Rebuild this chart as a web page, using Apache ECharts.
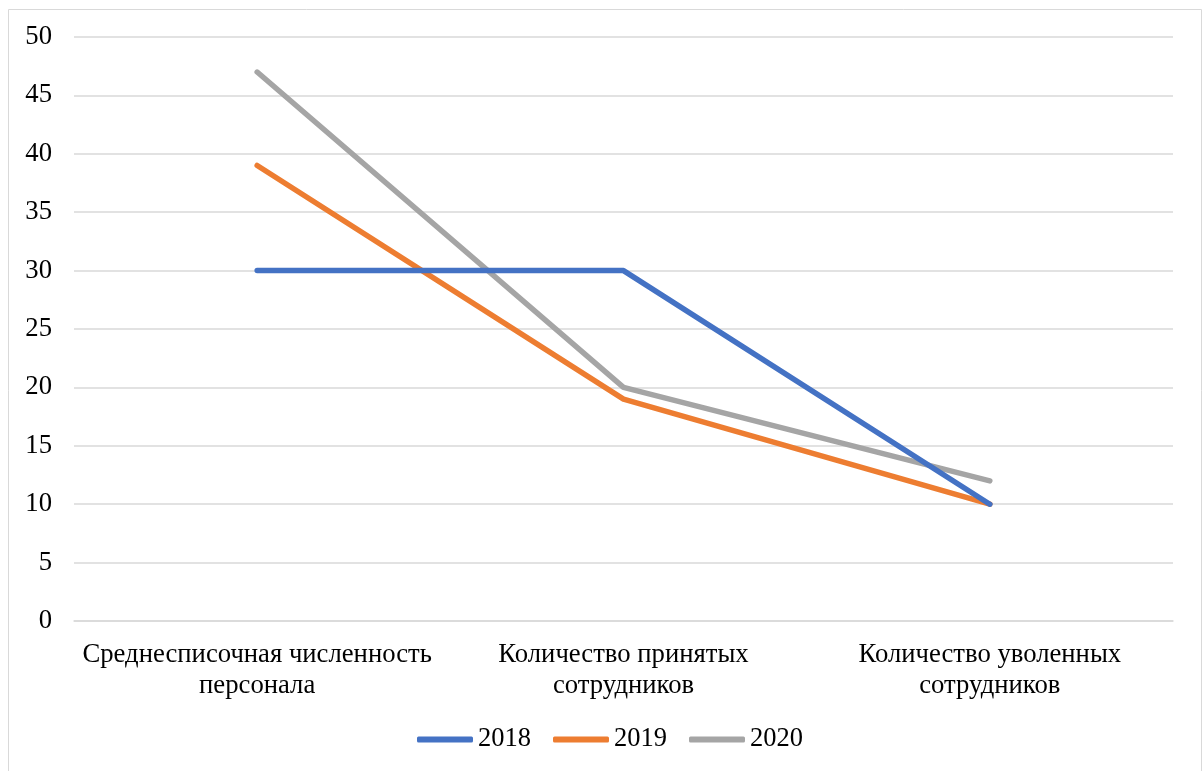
<!DOCTYPE html>
<html>
<head>
<meta charset="utf-8">
<script src="https://cdn.jsdelivr.net/npm/echarts@6/dist/echarts.min.js"></script>
<style>
  html, body { margin: 0; padding: 0; background: #fff; }
  #chart { width: 1204px; height: 771px; }
</style>
</head>
<body>
<div id="chart"></div>
<script>
// Staff movement indicators by year
const categories = [
  'Среднесписочная численность\nперсонала',
  'Количество принятых\nсотрудников',
  'Количество уволенных\nсотрудников'
];
const years = ['2018', '2019', '2020'];
const values2018 = [30, 30, 10];
const values2019 = [39, 19, 10];
const values2020 = [47, 20, 12];
const yTicks = { min: 0, max: 50, interval: 5 };
const colors = ['#4472C4', '#ED7D31', '#A5A5A5'];

const seriesValues = [values2018, values2019, values2020];
const font = '"Liberation Serif", "Times New Roman", serif';

const chart = echarts.init(document.getElementById('chart'));
chart.setOption({
  animation: false,
  textStyle: { fontFamily: font },
  graphic: [{
    type: 'rect',
    shape: { x: 8.5, y: 9.5, width: 1193, height: 800 },
    style: { fill: 'none', stroke: '#d9d9d9', lineWidth: 1 },
    silent: true,
    z: -1
  }],
  grid: { left: 74, right: 31, top: 37, bottom: 150, containLabel: false },
  legend: {
    top: 721,
    left: 412,
    icon: 'roundRect',
    itemWidth: 56,
    itemHeight: 6,
    itemGap: 22,
    itemStyle: { borderWidth: 0 },
    textStyle: { fontFamily: font, fontSize: 26.5, color: '#000', padding: [2, 0, 0, 0] },
    data: years
  },
  xAxis: {
    type: 'category',
    data: categories,
    boundaryGap: true,
    axisLine: { show: true, lineStyle: { color: '#d9d9d9', width: 1.5 } },
    axisTick: { show: false },
    axisLabel: {
      fontFamily: font, fontSize: 26.7, color: '#000',
      margin: 18, lineHeight: 31, interval: 0
    }
  },
  yAxis: {
    type: 'value',
    min: yTicks.min,
    max: yTicks.max,
    interval: yTicks.interval,
    axisLine: { show: false },
    axisTick: { show: false },
    splitLine: { lineStyle: { color: '#d9d9d9', width: 1.5 } },
    axisLabel: { fontFamily: font, fontSize: 26.7, color: '#000', margin: 22 }
  },
  series: years.map((y, i) => ({
    name: y,
    type: 'line',
    data: seriesValues[i],
    symbol: 'none',
    showSymbol: false,
    color: colors[i],
    lineStyle: { width: 5.5, color: colors[i], cap: 'round', join: 'round' },
    z: 2 + (2 - i)
  }))
});
</script>
</body>
</html>
